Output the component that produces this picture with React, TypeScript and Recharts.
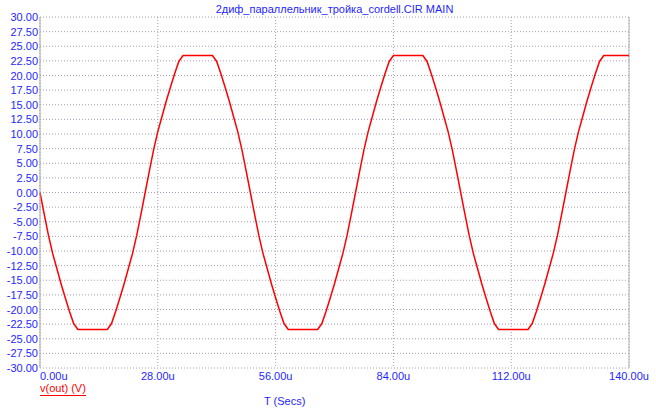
import React from 'react';
import { LineChart, Line, XAxis, YAxis, CartesianGrid, ReferenceLine } from 'recharts';

// time in microseconds, 1u step
const timeUs: number[] = [
  0, 1, 2, 3, 4, 5, 6, 7, 8, 9, 10, 11, 12, 13, 14, 15, 16, 17, 18, 19,
  20, 21, 22, 23, 24, 25, 26, 27, 28, 29, 30, 31, 32, 33, 34, 35, 36, 37, 38, 39,
  40, 41, 42, 43, 44, 45, 46, 47, 48, 49, 50, 51, 52, 53, 54, 55, 56, 57, 58, 59,
  60, 61, 62, 63, 64, 65, 66, 67, 68, 69, 70, 71, 72, 73, 74, 75, 76, 77, 78, 79,
  80, 81, 82, 83, 84, 85, 86, 87, 88, 89, 90, 91, 92, 93, 94, 95, 96, 97, 98, 99,
  100, 101, 102, 103, 104, 105, 106, 107, 108, 109, 110, 111, 112, 113, 114, 115, 116, 117, 118, 119,
  120, 121, 122, 123, 124, 125, 126, 127, 128, 129, 130, 131, 132, 133, 134, 135, 136, 137, 138, 139,
  140,
];

// v(out) in volts
const vOut: number[] = [
  0, -3.7, -7.3, -10.4, -13.0, -15.6, -18.0, -20.3, -22.4, -23.4, -23.4, -23.4, -23.4, -23.4, -23.4, -23.4, -23.4, -22.4, -20.3, -18.0,
  -15.6, -13.0, -10.4, -7.3, -3.7, 0, 3.7, 7.3, 10.4, 13.0, 15.6, 18.0, 20.3, 22.4, 23.4, 23.4, 23.4, 23.4, 23.4, 23.4,
  23.4, 23.4, 22.4, 20.3, 18.0, 15.6, 13.0, 10.4, 7.3, 3.7, 0, -3.7, -7.3, -10.4, -13.0, -15.6, -18.0, -20.3, -22.4, -23.4,
  -23.4, -23.4, -23.4, -23.4, -23.4, -23.4, -23.4, -22.4, -20.3, -18.0, -15.6, -13.0, -10.4, -7.3, -3.7, 0, 3.7, 7.3, 10.4, 13.0,
  15.6, 18.0, 20.3, 22.4, 23.4, 23.4, 23.4, 23.4, 23.4, 23.4, 23.4, 23.4, 22.4, 20.3, 18.0, 15.6, 13.0, 10.4, 7.3, 3.7,
  0, -3.7, -7.3, -10.4, -13.0, -15.6, -18.0, -20.3, -22.4, -23.4, -23.4, -23.4, -23.4, -23.4, -23.4, -23.4, -23.4, -22.4, -20.3, -18.0,
  -15.6, -13.0, -10.4, -7.3, -3.7, 0, 3.7, 7.3, 10.4, 13.0, 15.6, 18.0, 20.3, 22.4, 23.4, 23.4, 23.4, 23.4, 23.4, 23.4,
  23.4,
];

const xTicks = [0, 28, 56, 84, 112, 140];
const yTicks = [
  -30, -27.5, -25, -22.5, -20, -17.5, -15, -12.5, -10, -7.5, -5, -2.5, 0,
  2.5, 5, 7.5, 10, 12.5, 15, 17.5, 20, 22.5, 25, 27.5, 30,
];

const title = '2диф_параллельник_тройка_cordell.CIR MAIN';
const seriesLabel = 'v(out) (V)';
const xLabel = 'T (Secs)';

const data = timeUs.map((t, i) => ({ t, v: vOut[i] }));

const FONT = '"Liberation Sans", Arial, sans-serif';
const BLUE = '#1f1fff';
const GRID = '#a69cb8';

const XTick = (props: any) => {
  const { x, y, payload } = props;
  return (
    <text
      x={x}
      y={y}
      dy={12}
      textAnchor={payload.value === 0 ? 'start' : 'middle'}
      fill={BLUE}
      fontSize={11}
      fontFamily={FONT}
    >
      {payload.value.toFixed(2)}u
    </text>
  );
};

const YTick = (props: any) => {
  const { x, y, payload } = props;
  return (
    <text x={x} y={y} dy={4} textAnchor="end" fill={BLUE} fontSize={11} fontFamily={FONT}>
      {payload.value.toFixed(2)}
    </text>
  );
};

export default function App() {
  return (
    <div style={{ position: 'absolute', left: 0, top: 0, width: 656, height: 419, background: '#fff' }}>
      <LineChart width={656} height={419} data={data} margin={{ top: 17, right: 27, left: 0, bottom: 0 }}>
        <CartesianGrid stroke={GRID} strokeDasharray="1 2" />
        <XAxis
          dataKey="t"
          type="number"
          domain={[0, 140]}
          ticks={xTicks}
          interval={0}
          height={51}
          axisLine={false}
          tickLine={false}
          tickSize={0}
          tickMargin={0}
          tick={<XTick />}
        />
        <YAxis
          type="number"
          domain={[-30, 30]}
          ticks={yTicks}
          interval={0}
          width={40}
          axisLine={{ stroke: '#a8a8a8' }}
          tickLine={false}
          tickSize={0}
          tickMargin={2}
          tick={<YTick />}
        />
        <ReferenceLine x={140} stroke="#b4b4b4" />
        <Line
          type="linear"
          dataKey="v"
          stroke="#ff0000"
          strokeWidth={1.5}
          dot={false}
          isAnimationActive={false}
        />
      </LineChart>
      <div
        style={{
          position: 'absolute', left: 40, width: 589, top: 3, textAlign: 'center',
          fontFamily: FONT, fontSize: 11, color: BLUE, lineHeight: '13px',
        }}
      >
        {title}
      </div>
      <div
        style={{
          position: 'absolute', left: 40, top: 382, fontFamily: FONT, fontSize: 11,
          color: '#ff0000', lineHeight: '13px', borderBottom: '1px solid #ff0000',
        }}
      >
        {seriesLabel}
      </div>
      <div
        style={{
          position: 'absolute', left: 264, top: 395, fontFamily: FONT, fontSize: 11,
          color: BLUE, lineHeight: '13px',
        }}
      >
        {xLabel}
      </div>
    </div>
  );
}
